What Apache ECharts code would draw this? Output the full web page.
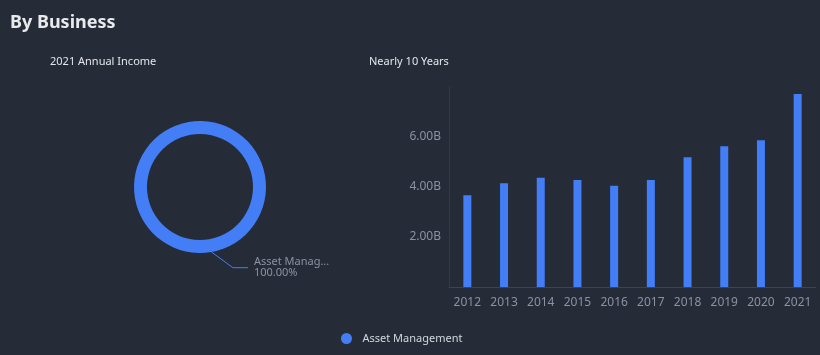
<!DOCTYPE html>
<html><head><meta charset="utf-8">
<script src="https://cdn.jsdelivr.net/npm/echarts@6/dist/echarts.min.js"></script>
<style>html,body{margin:0;padding:0;background:#252b37;}#c{width:820px;height:355px;}</style>
</head><body><div id="c"></div>
<script>
const pieNames = ['Asset Management'];
const pieValues = [7.72];
const years = ['2012','2013','2014','2015','2016','2017','2018','2019','2020','2021'];
const incomeB = [3.67, 4.15, 4.37, 4.28, 4.05, 4.28, 5.19, 5.63, 5.87, 7.72];

const chart = echarts.init(document.getElementById('c'));
const blue = '#437ef7';
const gray = '#8a93a3';
const ff = '"Noto Sans", "DejaVu Sans", sans-serif';
const labelShiftX = 19, labelShiftY = -4;
chart.setOption({
  backgroundColor: '#252b37',
  textStyle: {fontFamily: ff},
  title: [
    {text: 'By Business', left: 5, top: 9, textStyle: {color: '#e8eaee', fontSize: 18, fontWeight: 'bold', fontFamily: ff}},
    {text: '2021 Annual Income', left: 45, top: 51, textStyle: {color: '#e3e6eb', fontSize: 11, fontWeight: 'normal', fontFamily: ff}},
    {text: 'Nearly 10 Years', left: 364, top: 51, textStyle: {color: '#e3e6eb', fontSize: 11, fontWeight: 'normal', fontFamily: ff}}
  ],
  legend: {
    data: pieNames, bottom: 6, left: 336, icon: 'circle', itemWidth: 22, itemHeight: 11, itemGap: 10,
    textStyle: {color: '#d3d7de', fontSize: 11, fontFamily: ff}
  },
  grid: {left: 449, right: 4, top: 87, bottom: 68},
  xAxis: {
    type: 'category', data: years,
    axisLine: {lineStyle: {color: '#3b4453'}}, axisTick: {show: false},
    axisLabel: {color: gray, fontSize: 12, margin: 10}
  },
  yAxis: {
    type: 'value', min: 0, max: 8, interval: 2,
    axisLine: {show: true, lineStyle: {color: '#333b49'}}, axisTick: {show: false},
    splitLine: {show: false},
    axisLabel: {color: gray, fontSize: 12, showMinLabel: false, showMaxLabel: false,
      formatter: v => v.toFixed(2) + 'B'}
  },
  series: [
    {
      type: 'pie', name: 'By Business', center: [200, 187], radius: [53, 66], startAngle: 100,
      avoidLabelOverlap: false,
      data: pieNames.map((n, i) => ({name: n, value: pieValues[i]})),
      itemStyle: {color: blue},
      label: {
        color: gray, fontSize: 11, lineHeight: 11,
        formatter: p => (p.name.length > 11 ? p.name.slice(0, 11) + '...' : p.name) + '\n' + p.percent.toFixed(2) + '%'
      },
      labelLayout: function (params) {
        const r = params.labelRect;
        const pts = params.labelLinePoints;
        const x = r.x + labelShiftX;
        const cy = r.y + r.height / 2 + labelShiftY;
        const out = {dx: labelShiftX, dy: labelShiftY};
        if (pts && pts.length) {
          out.labelLinePoints = [pts[0], [x - 21, cy], [x - 6, cy]];
        }
        return out;
      },
      labelLine: {length: 20, length2: 15, lineStyle: {color: blue}},
      emphasis: {disabled: true}
    },
    {
      type: 'bar', name: 'Asset Management', data: incomeB, barWidth: 8,
      itemStyle: {color: blue}
    }
  ]
});
</script></body></html>
